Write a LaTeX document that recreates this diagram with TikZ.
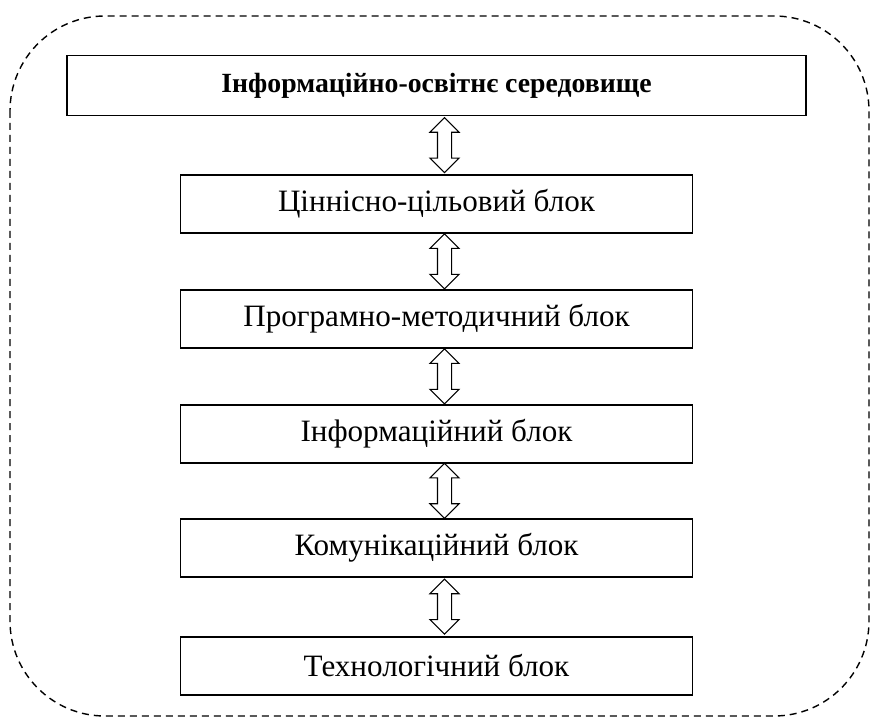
\documentclass[tikz,border=0pt]{standalone}
\usepackage{fontspec}
\setmainfont{Liberation Serif}
\usepackage{tikz}
\usetikzlibrary{positioning,shapes.arrows}

\begin{document}
\begin{tikzpicture}[
blk/.style={draw, line width=1.1pt, align=center, minimum width=10.24cm, minimum height=1.16cm, font=\fontsize{17.7}{21}\selectfont},
topblk/.style={blk, minimum width=14.78cm, minimum height=1.2cm, font=\fontsize{15.8}{19}\selectfont\bfseries},
dblarrow/.style={double arrow, draw, line width=0.6pt, fill=white, rotate=90, inner xsep=0pt, inner ysep=0.13cm, minimum width=0.56cm, minimum height=1.1cm, double arrow head extend=0.15cm},
frame/.style={line width=0.8pt, dash pattern=on 0.14cm off 0.1cm, rounded corners=1.9cm}
]
\useasboundingbox (0,0) rectangle (17.44,-14.36);
\draw[frame] (0.2,-0.32) rectangle (17.38,-14.32);
\node[topblk] (env) at (8.73,-1.71) {Інформаційно-освітнє середовище};
\node[blk, below=1.15cm of env] (value) {Ціннісно-цільовий блок};
\node[blk, below=1.1cm of value] (prog) {Програмно-методичний блок};
\node[blk, below=1.1cm of prog] (info) {Інформаційний блок};
\node[blk, below=1.08cm of info] (comm) {Комунікаційний блок};
\node[blk, below=1.16cm of comm] (tech) {Технологічний блок};
% arrows between blocks
\path ([xshift=0.16cm]env.south) -- node[dblarrow] {} ([xshift=0.16cm]value.north);
\path ([xshift=0.16cm]value.south) -- node[dblarrow] {} ([xshift=0.16cm]prog.north);
\path ([xshift=0.16cm]prog.south) -- node[dblarrow] {} ([xshift=0.16cm]info.north);
\path ([xshift=0.16cm]info.south) -- node[dblarrow] {} ([xshift=0.16cm]comm.north);
\path ([xshift=0.16cm]comm.south) -- node[dblarrow] {} ([xshift=0.16cm]tech.north);
\end{tikzpicture}
\end{document}
